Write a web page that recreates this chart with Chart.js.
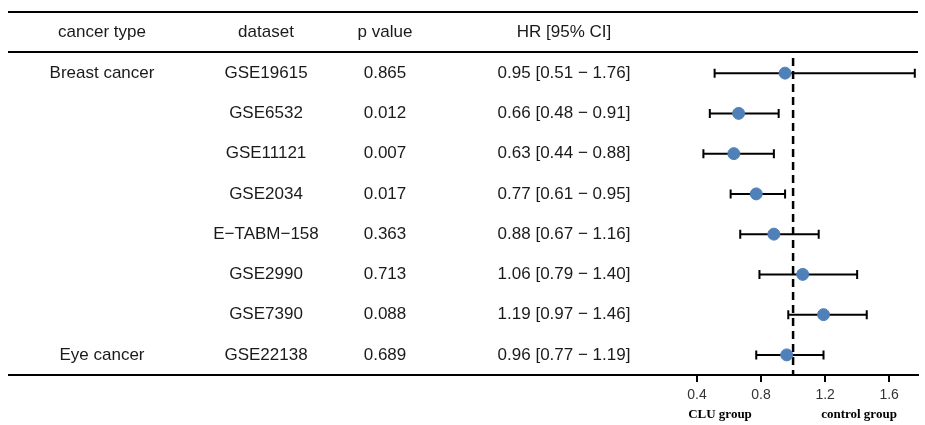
<!DOCTYPE html>
<html>
<head>
<meta charset="utf-8">
<script src="https://cdn.jsdelivr.net/npm/chart.js@4"></script>
<style>
  html, body { margin: 0; padding: 0; background: #fff; }
</style>
</head>
<body>
<canvas id="myChart" width="925" height="425"></canvas>
<script>
const cancerTypes = ['Breast cancer', '', '', '', '', '', '', 'Eye cancer'];
const datasetNames = ['GSE19615', 'GSE6532', 'GSE11121', 'GSE2034', 'E\u2212TABM\u2212158', 'GSE2990', 'GSE7390', 'GSE22138'];
const pValues = ['0.865', '0.012', '0.007', '0.017', '0.363', '0.713', '0.088', '0.689'];
const hr = [0.95, 0.66, 0.63, 0.77, 0.88, 1.06, 1.19, 0.96];
const lower = [0.51, 0.48, 0.44, 0.61, 0.67, 0.79, 0.97, 0.77];
const upper = [1.76, 0.91, 0.88, 0.95, 1.16, 1.40, 1.46, 1.19];
const tickValues = [0.4, 0.8, 1.2, 1.6];
const headers = ['cancer type', 'dataset', 'p value', 'HR [95% CI]'];

const colX = [102, 266, 385, 564];
const textFont = "17px 'Liberation Sans', Arial, sans-serif";

// table text, rules, whiskers and the reference line
const forestPlugin = {
  id: 'forest',
  beforeDatasetsDraw(chart) {
    const ctx = chart.ctx;
    const xs = chart.scales.x, ys = chart.scales.y;
    const area = chart.chartArea;
    ctx.save();
    // dashed line at HR = 1
    const x1 = xs.getPixelForValue(1);
    ctx.strokeStyle = '#000';
    ctx.lineWidth = 2.5;
    ctx.setLineDash([8, 5]);
    ctx.beginPath();
    ctx.moveTo(x1, area.top + 5);
    ctx.lineTo(x1, area.bottom);
    ctx.stroke();
    ctx.setLineDash([]);
    // confidence intervals
    ctx.lineWidth = 2;
    for (let i = 0; i < hr.length; i++) {
      const y = ys.getPixelForValue(i + 1);
      const a = xs.getPixelForValue(lower[i]);
      const b = xs.getPixelForValue(upper[i]);
      ctx.beginPath();
      ctx.moveTo(a, y); ctx.lineTo(b, y);
      ctx.moveTo(a, y - 4.5); ctx.lineTo(a, y + 4.5);
      ctx.moveTo(b, y - 4.5); ctx.lineTo(b, y + 4.5);
      ctx.stroke();
    }
    ctx.restore();
  },
  afterDraw(chart) {
    const ctx = chart.ctx;
    const ys = chart.scales.y;
    const area = chart.chartArea;
    ctx.save();
    // horizontal rules
    ctx.strokeStyle = '#000';
    ctx.lineWidth = 2;
    [12, area.top - 1, area.bottom].forEach(y => {
      ctx.beginPath();
      ctx.moveTo(8, y);
      ctx.lineTo(918, y);
      ctx.stroke();
    });
    // table text
    ctx.fillStyle = '#1a1a1a';
    ctx.font = textFont;
    ctx.textAlign = 'center';
    ctx.textBaseline = 'middle';
    headers.forEach((h, j) => ctx.fillText(h, colX[j], 32));
    for (let i = 0; i < hr.length; i++) {
      const y = ys.getPixelForValue(i + 1);
      const ci = hr[i].toFixed(2) + ' [' + lower[i].toFixed(2) + ' \u2212 ' + upper[i].toFixed(2) + ']';
      [cancerTypes[i], datasetNames[i], pValues[i], ci].forEach((t, j) => ctx.fillText(t, colX[j], y));
    }
    // group labels under the axis
    ctx.fillStyle = '#000';
    ctx.font = "bold 13px 'Liberation Serif', 'Times New Roman', serif";
    ctx.fillText('CLU group', 720, 415);
    ctx.fillText('control group', 859, 415);
    ctx.restore();
  }
};

const config = {
  type: 'scatter',
  data: {
    datasets: [{
      data: hr.map((v, i) => ({ x: v, y: i + 1 })),
      backgroundColor: '#5080b8',
      borderColor: '#5080b8',
      pointRadius: 6,
      pointHoverRadius: 6,
      clip: false
    }]
  },
  options: {
    responsive: false,
    animation: false,
    events: [],
    layout: {
      padding: { left: 697, right: 3, top: 53, bottom: 0 }
    },
    scales: {
      x: {
        type: 'linear',
        min: 0.4,
        max: 1.78,
        afterBuildTicks: (s) => { s.ticks = tickValues.map(v => ({ value: v })); },
        afterFit: (s) => { s.height = 50; },
        grid: { drawOnChartArea: false, drawTicks: true, tickLength: 7, color: '#000', lineWidth: 2 },
        border: { display: true, color: '#000', width: 2 },
        ticks: {
          padding: 5,
          color: '#333',
          font: { size: 14, family: "'Liberation Sans', Arial, sans-serif" },
          callback: (v) => v.toFixed(1)
        }
      },
      y: {
        type: 'linear',
        display: false,
        reverse: true,
        min: 0.5,
        max: 8.5
      }
    },
    plugins: {
      legend: { display: false },
      tooltip: { enabled: false }
    }
  },
  plugins: [forestPlugin]
};

new Chart(
  document.getElementById('myChart'),
  config
);
</script>
</body>
</html>
